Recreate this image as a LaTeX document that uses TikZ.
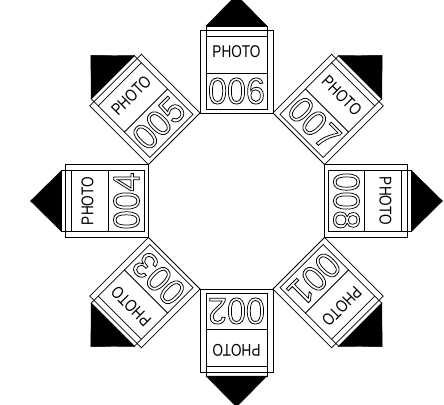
\documentclass[tikz,border=0pt]{standalone}
\usepackage{fontspec}
\setmainfont{Liberation Sans}
\usetikzlibrary{positioning}

% outlined digits, as in the plan drawing
\newcommand{\hollow}[1]{\special{pdf:code 1 Tr 0.8 w}#1\special{pdf:code 0 Tr}}

\tikzset{
  frame/.style={black, line width=0.8pt},
  photolabel/.style={font=\fontsize{17}{17}\selectfont, inner sep=0pt, xscale=0.8},
  numlabel/.style={font=\fontsize{37}{37}\selectfont, inner sep=0pt, xscale=0.92},
}

\begin{document}
\begin{tikzpicture}[x=1pt,y=1pt]
    \useasboundingbox (0,0) rectangle (444,404);
    \clip (0,0) rectangle (444,404);
    \foreach \n/\a in {1/-45,2/-90,3/-135,4/180,5/135,6/90,7/45,8/0}{
      \begin{scope}[shift={(236.5,203)}, rotate=\a-90, transform shape]
        \draw[frame] (-36.5,88) rectangle (36.5,171);
        \draw[frame] (-30.5,92) rectangle (30.5,175);
        \draw[frame] (-30.5,165) -- (30.5,165);
        \draw[frame] (-30.5,128) -- (30.5,128);
        \filldraw[black] (-30.5,175) -- (30.5,175) -- (0,206) -- cycle;
        \node[photolabel] (photo\n) at (0,149) {PHOTO};
        \node[numlabel] (num\n) at (0,110) {\hollow{00\n}};
      \end{scope}
    }
\end{tikzpicture}
\end{document}
